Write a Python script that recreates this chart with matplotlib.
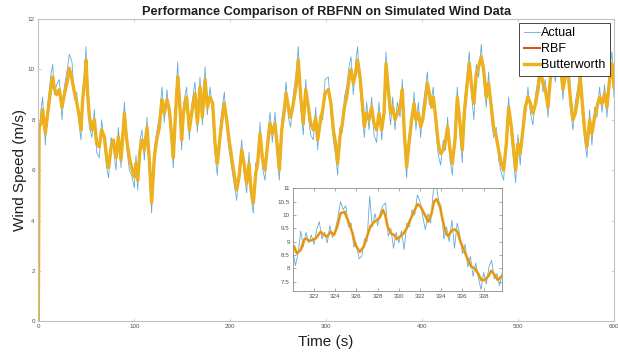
import matplotlib
matplotlib.use("Agg")
import matplotlib.pyplot as plt
import numpy as np
from matplotlib.ticker import FuncFormatter

plt.rcParams['font.family'] = ['Liberation Sans', 'DejaVu Sans']

# Datos (tiempo en s, velocidad en m/s)
t_main = [0, 0.8, 2.8, 4.5, 7.3, 9.8, 13.2, 15, 16.7, 19.1,
          21.9, 24.7, 27.1, 30.6, 32.3, 35.1, 37.6, 40, 42.8, 44.5,
          46.2, 48.7, 49.7, 51.4, 53.2, 56, 58.4, 60.8, 63.6, 66,
          68.8, 71.2, 73.3, 75.8, 78.2, 81, 83.4, 86.2, 89.7, 92.1,
          94.9, 97.3, 100.1, 101.8, 103.6, 106, 108.1, 110.5, 113.3, 115.7,
          118.1, 120.9, 123.4, 126.1, 128.9, 131.3, 134.1, 136.6, 139.3, 140.7,
          142.8, 145.3, 147, 149.4, 151.2, 154.6, 157.4, 159.9, 163.3, 165.8,
          168.5, 171, 173.8, 176.2, 179, 181.7, 184.2, 186.6, 189.4, 191.8,
          193.9, 196.3, 198.8, 201.5, 204, 206.8, 209.2, 212, 214.4, 217.2,
          219.6, 221.7, 224.1, 226.6, 228.6, 231.1, 233.5, 236.3, 238.7, 241.5,
          243.9, 246.7, 249.1, 251.2, 253.7, 256.1, 258.2, 260.6, 263, 265.8,
          268.6, 271, 273.5, 276.2, 278.7, 281.5, 283.9, 286.7, 289.1, 291.2,
          293.6, 296.4, 298.8, 302.3, 305, 307.5, 309.9, 312, 314.4, 316.9,
          319, 321.4, 323.8, 325.9, 328.3, 330.8, 332.8, 335.3, 337.7, 339.8,
          342.2, 344.7, 347.4, 349.9, 352.6, 355.1, 357.9, 360.3, 362.4, 364.8,
          367.2, 369.3, 371.8, 374.2, 377, 379.4, 381.5, 383.9, 386.3, 389.1,
          391.6, 393.6, 396.1, 398.5, 400.6, 403, 405.5, 407.5, 410, 411.7,
          414.1, 416.9, 419.3, 422.1, 424.5, 426.6, 429.1, 431.5, 434.3, 436.7,
          439.5, 441.9, 444, 446.4, 449.2, 451.7, 454, 456.5, 458.9, 461.7,
          464.1, 466.9, 469.3, 472.1, 474.5, 477.3, 479.8, 482.5, 485, 487.8,
          490.2, 493, 495.4, 497.5, 499.9, 502.3, 505.1, 507.6, 510.3, 512.8,
          515.5, 518.3, 520.8, 523.2, 526, 528.4, 531.2, 533.6, 536.4, 538.8,
          541.6, 544, 546.8, 549.2, 552, 554.4, 557.2, 559.7, 562.4, 564.9,
          567, 569.4, 571.8, 574.6, 577, 579.8, 582.2, 585, 587.5, 590.2,
          592.7, 595.4, 597.9, 600]

actual_main = [8.3, 7.2, 8.4, 8.9, 7.0, 8.6, 9.8, 10.2, 9.0, 9.4,
               9.6, 8.0, 9.3, 10.1, 10.6, 10.3, 8.8, 9.1, 7.7, 7.2,
               9.1, 10.1, 10.9, 8.8, 7.7, 7.3, 8.4, 6.7, 6.5, 8.0,
               7.0, 6.1, 5.7, 7.3, 6.9, 6.0, 7.7, 6.1, 8.7, 6.9,
               6.0, 5.8, 5.3, 6.6, 5.2, 7.2, 7.6, 6.4, 8.1, 6.0,
               4.3, 6.9, 7.5, 8.1, 9.3, 7.9, 9.2, 8.0, 6.8, 6.1,
               8.5, 10.3, 8.6, 6.8, 8.6, 9.3, 7.2, 8.6, 9.5, 7.5,
               9.7, 7.8, 10.1, 8.2, 9.3, 8.3, 6.6, 5.8, 7.7, 8.5,
               9.1, 7.7, 6.8, 6.1, 5.5, 4.8, 6.1, 7.2, 5.9, 5.1,
               6.7, 4.9, 4.3, 6.3, 6.0, 7.9, 6.1, 5.6, 7.3, 8.3,
               7.1, 8.3, 6.5, 5.6, 8.0, 8.6, 9.5, 8.1, 7.7, 9.0,
               9.8, 10.9, 8.5, 7.4, 9.6, 8.1, 7.4, 7.2, 8.5, 6.8,
               8.2, 8.0, 9.6, 9.7, 8.2, 7.2, 6.6, 5.8, 7.7, 7.5,
               8.9, 9.3, 10.1, 10.5, 9.0, 10.3, 10.9, 9.3, 8.2, 7.3,
               8.7, 7.6, 8.9, 7.4, 7.1, 8.7, 7.2, 8.6, 10.7, 8.8,
               7.8, 8.9, 7.6, 8.7, 8.1, 9.6, 7.0, 5.7, 7.4, 7.6,
               9.1, 7.6, 8.7, 7.3, 8.4, 9.1, 9.9, 8.6, 8.9, 9.3,
               7.7, 6.6, 6.2, 7.2, 6.8, 8.1, 6.4, 5.8, 7.6, 9.3,
               7.4, 6.3, 8.7, 9.6, 10.7, 8.9, 8.0, 10.2, 9.7, 11.0,
               9.6, 8.5, 9.9, 8.1, 7.3, 7.7, 6.4, 5.9, 5.6, 7.4,
               8.9, 7.3, 6.4, 5.5, 7.4, 6.2, 8.0, 8.1, 9.3, 8.3,
               7.8, 9.0, 9.6, 10.4, 9.1, 9.6, 8.1, 10.0, 10.5, 9.5,
               10.5, 10.6, 8.8, 10.1, 10.4, 8.5, 7.6, 8.7, 9.3, 10.1,
               8.2, 7.2, 6.5, 8.4, 7.0, 8.5, 8.1, 9.3, 8.3, 9.4,
               8.1, 10.0, 10.7, 8.9]

butter_main = [0, 7.7, 7.85, 8.4, 7.46, 8.26, 9.3, 9.7, 9.25, 9.0,
               9.2, 8.5, 9.0, 9.6, 10.05, 9.6, 9.1, 8.7, 8.1, 7.6,
               8.8, 9.7, 10.37, 9.05, 8.1, 7.6, 8.0, 7.05, 6.93, 7.6,
               7.33, 6.5, 6.1, 6.9, 7.2, 6.5, 7.33, 6.4, 8.26, 7.2,
               6.5, 6.1, 5.74, 6.27, 5.6, 6.8, 7.2, 6.8, 7.7, 6.4,
               4.7, 6.5, 7.2, 7.7, 8.8, 8.26, 8.8, 8.4, 7.2, 6.5,
               8.1, 9.7, 8.9, 7.2, 8.26, 8.9, 7.6, 8.26, 9.05, 7.85,
               9.3, 8.1, 9.6, 8.5, 8.9, 8.65, 7.05, 6.27, 7.33, 8.1,
               8.65, 8.0, 7.2, 6.5, 5.87, 5.22, 5.74, 6.8, 6.27, 5.48,
               6.27, 5.22, 4.7, 5.87, 6.27, 7.46, 6.5, 6.0, 6.93, 7.85,
               7.46, 7.85, 6.93, 6.0, 7.6, 8.26, 9.05, 8.5, 8.1, 8.65,
               9.3, 10.37, 8.9, 7.85, 9.2, 8.5, 7.85, 7.6, 8.1, 7.2,
               7.85, 8.4, 9.05, 9.2, 8.65, 7.6, 7.05, 6.27, 7.33, 7.85,
               8.5, 8.9, 9.6, 10.0, 9.45, 9.85, 10.37, 9.7, 8.65, 7.72,
               8.26, 8.0, 8.5, 7.85, 7.6, 8.26, 7.6, 8.26, 10.24, 9.2,
               8.26, 8.5, 8.0, 8.26, 8.5, 9.2, 7.46, 6.13, 7.05, 8.0,
               8.65, 8.0, 8.26, 7.72, 8.0, 8.65, 9.45, 9.05, 8.5, 8.9,
               8.1, 7.05, 6.66, 6.8, 7.2, 7.72, 6.8, 6.27, 7.2, 8.9,
               7.85, 6.8, 8.26, 9.2, 10.24, 9.3, 8.65, 9.85, 10.1, 10.5,
               10.0, 8.9, 9.45, 8.5, 7.72, 7.33, 6.8, 6.27, 6.0, 7.05,
               8.5, 7.72, 6.8, 6.0, 7.05, 6.66, 7.6, 8.5, 8.9, 8.65,
               8.26, 8.65, 9.2, 10.0, 9.45, 9.2, 8.5, 9.6, 10.1, 9.85,
               10.1, 10.24, 9.2, 9.7, 10.0, 8.9, 8.0, 8.26, 8.9, 9.7,
               8.65, 7.6, 6.93, 8.0, 7.46, 8.1, 8.5, 8.9, 8.65, 9.05,
               8.5, 9.6, 10.24, 9.3]

rbf_main = butter_main  # casi identica, queda oculta bajo Butterworth

# Zoom del recuadro (320-340 s)
t_zoom = [320.13, 320.38, 320.75, 321.06, 321.22, 321.53, 321.84, 322.16, 322.63, 322.94,
          323.25, 323.56, 323.88, 324.19, 324.5, 324.88, 325.19, 325.59, 325.91, 326.31,
          326.69, 327.0, 327.31, 327.69, 328.0, 328.25, 328.5, 328.72, 328.94, 329.25,
          329.56, 329.81, 330.13, 330.44, 330.75, 331.06, 331.44, 331.75, 332.06, 332.38,
          332.78, 333.09, 333.31, 333.56, 333.88, 334.13, 334.44, 334.66, 334.97, 335.28,
          335.53, 335.81, 336.13, 336.53, 336.84, 337.16, 337.47, 337.78, 338.09, 338.41,
          338.72, 339.03, 339.34, 339.66]
butter_zoom = [8.81, 8.56, 8.69, 9.06, 9.12, 9.03, 9.06, 9.12, 9.37, 9.25,
               9.19, 9.37, 9.25, 9.56, 10.06, 10.12, 9.81, 9.37, 8.87, 8.62,
               8.81, 9.19, 9.56, 9.75, 9.81, 9.94, 10.19, 10.0, 9.56, 9.31,
               9.25, 9.09, 9.19, 9.31, 9.5, 9.81, 10.12, 10.41, 10.31, 10.06,
               9.75, 10.06, 10.5, 10.59, 10.31, 9.81, 9.31, 9.21, 9.41, 9.46,
               9.37, 9.0, 8.69, 8.31, 8.06, 8.0, 7.81, 7.56, 7.56, 7.69,
               7.91, 7.75, 7.56, 7.69]
rbf_zoom = butter_zoom

t_zoom_actual = np.arange(320, 340, 0.25)
actual_zoom = [8.70, 8.10, 8.55, 9.40, 8.80, 9.35, 8.95, 9.25,
               8.90, 9.45, 9.75, 9.10, 9.35, 8.95, 9.60, 9.15,
               9.45, 9.90, 10.50, 10.20, 10.35, 9.55, 9.70, 8.80,
               8.95, 8.35, 8.45, 9.10, 9.00, 10.70, 9.55, 10.05,
               9.60, 10.10, 10.35, 10.45, 9.20, 9.50, 8.75, 9.35,
               8.95, 9.40, 8.70, 9.70, 9.55, 10.20, 10.00, 10.75,
               10.50, 9.95, 9.45, 10.05, 9.70, 10.90, 11.20, 10.55,
               10.30, 9.10, 9.55, 9.00, 9.80, 8.75, 9.70, 9.25,
               8.55, 8.90, 8.05, 8.45, 7.70, 8.20, 7.65, 7.20,
               7.85, 7.40, 8.05, 8.30, 7.60, 7.80, 7.35, 7.85]

c_actual = '#0072BD'
c_rbf = '#D95319'
c_butter = '#EDB120'


def estilo_ejes(ax, color_eje, ancho):
    for s in ax.spines.values():
        s.set_color(color_eje)
        s.set_linewidth(ancho)
    ax.tick_params(direction='in', top=True, right=True, length=2.5,
                   width=0.5, color=color_eje, labelsize=4.5,
                   labelcolor='#505050')
    ax.tick_params(axis='x', pad=2)
    ax.tick_params(axis='y', pad=2.5)


fig = plt.figure(figsize=(6.18, 3.56), dpi=100)
ax = fig.add_axes([0.062, 0.0975, 0.9315, 0.849])

ax.plot(t_main, actual_main, color=c_actual, lw=0.6, alpha=0.6, label='Actual')
ax.plot(t_main, rbf_main, color=c_rbf, lw=1.5, label='RBF')
ax.plot(t_main, butter_main, color=c_butter, lw=2.4, label='Butterworth')

ax.set_xlim(0, 600)
ax.set_ylim(0, 12)
ax.set_xticks(np.arange(0, 601, 100))
ax.set_yticks(np.arange(0, 13, 2))
estilo_ejes(ax, '#c0c0c0', 0.8)

ax.set_title('Performance Comparison of RBFNN on Simulated Wind Data',
             fontsize=9.2, fontweight='bold', pad=3, color='#202020')
ax.set_xlabel('Time (s)', fontsize=11, color='#202020')
ax.set_ylabel('Wind Speed (m/s)', fontsize=11, color='#202020')
ax.xaxis.set_label_coords(0.5, -0.045)
ax.yaxis.set_label_coords(-0.0196, 0.5)

leg = ax.legend(loc='upper right', bbox_to_anchor=(0.993, 0.987),
                borderaxespad=0, fontsize=9, fancybox=False,
                handlelength=1.3, handletextpad=0.1, borderpad=0.35,
                labelspacing=0.32)
leg.get_frame().set_edgecolor('#262626')
leg.get_frame().set_linewidth(0.6)
leg.get_frame().set_alpha(1)

# recuadro con el detalle
axin = fig.add_axes([0.4746, 0.1826, 0.3372, 0.2885])
axin.plot(t_zoom_actual, actual_zoom, color=c_actual, lw=0.6, alpha=0.6)
axin.plot(t_zoom, butter_zoom, color=c_butter, lw=2.0)
axin.plot(t_zoom, rbf_zoom, color=c_rbf, lw=0.8, alpha=0.5)
axin.set_xlim(320.05, 339.7)
axin.set_ylim(7.15, 11)
axin.set_xticks(np.arange(322, 339, 2))
axin.set_yticks(np.arange(7.5, 11.01, 0.5))
axin.yaxis.set_major_formatter(FuncFormatter(lambda v, p: '%g' % v))
estilo_ejes(axin, '#8a8a8a', 0.6)

fig.savefig('out.png', dpi=100)
